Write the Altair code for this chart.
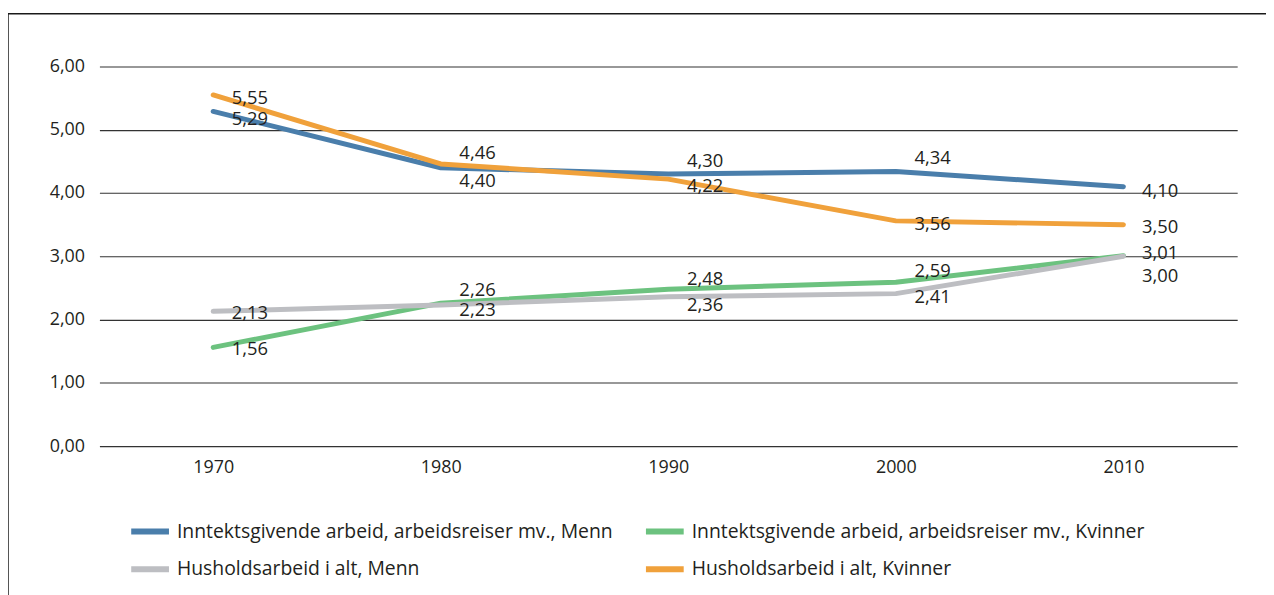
import altair as alt
import pandas as pd

years = ["1970", "1980", "1990", "2000", "2010"]
series_names = [
    "Inntektsgivende arbeid, arbeidsreiser mv., Menn",
    "Inntektsgivende arbeid, arbeidsreiser mv., Kvinner",
    "Husholdsarbeid i alt, Menn",
    "Husholdsarbeid i alt, Kvinner",
]
menn_arbeid = [5.29, 4.40, 4.30, 4.34, 4.10]
kvinner_arbeid = [1.56, 2.26, 2.48, 2.59, 3.01]
menn_hus = [2.13, 2.23, 2.36, 2.41, 3.00]
kvinner_hus = [5.55, 4.46, 4.22, 3.56, 3.50]
y_ticks = [0, 1, 2, 3, 4, 5, 6]

colors = ["#4a7eab", "#6cc27f", "#bdbec2", "#f0a13b"]

# label vertical offsets in pixels (layout only)
label_dy = [
    [8, 13, -13, -14, 4],
    [2, -13, -10, -11, -3],
    [2, 5, 8, 3, 20],
    [3, -11, 7, 3, 2],
]

PX_PER_UNIT = 382 / 6.0

rows = []
for si, (s, vals) in enumerate(zip(series_names, [menn_arbeid, kvinner_arbeid, menn_hus, kvinner_hus])):
    for j, (yr, v) in enumerate(zip(years, vals)):
        rows.append({
            "year": yr,
            "serie": s,
            "value": v,
            "label": f"{v:.2f}".replace(".", ","),
            "label_y": v - label_dy[si][j] / PX_PER_UNIT,
        })
df = pd.DataFrame(rows)

FONT = "Open Sans"
TXT = "#231f20"

x_enc = alt.X("year:N", sort=years,
              scale=alt.Scale(type="point", padding=0.5),
              axis=alt.Axis(title=None, labelAngle=0, ticks=False, domain=False,
                            labelPadding=13, labelFontSize=18, labelColor=TXT,
                            labelFont=FONT, grid=False))

lines = alt.Chart(df).mark_line(strokeWidth=5, strokeCap="round", strokeJoin="round").encode(
    x=x_enc,
    y=alt.Y("value:Q", scale=alt.Scale(domain=[0, 6], nice=False, zero=True),
            axis=alt.Axis(title=None, values=y_ticks, ticks=False, domain=False,
                          labelExpr="replace(format(datum.value, '.2f'), '.', ',')",
                          labelPadding=15, labelFontSize=18, labelColor=TXT,
                          labelFont=FONT, grid=True, gridColor="#333333",
                          gridWidth=1.1)),
    color=alt.Color("serie:N", sort=series_names,
                    scale=alt.Scale(domain=series_names, range=colors),
                    legend=alt.Legend(title=None, orient="none", legendX=29, legendY=446,
                                      direction="horizontal",
                                      columns=2, columnPadding=21, rowPadding=4,
                                      symbolType="stroke", symbolSize=1444,
                                      symbolStrokeWidth=6, labelOffset=5,
                                      labelFontSize=19.5, labelFont=FONT,
                                      labelColor=TXT, labelLimit=0)),
    order=alt.Order("year:N"),
)

labels = alt.Chart(df).mark_text(align="center", baseline="middle", dx=37,
                                 fontSize=18.5, font=FONT, color=TXT).encode(
    x=alt.X("year:N", sort=years, scale=alt.Scale(type="point", padding=0.5)),
    y=alt.Y("label_y:Q"),
    text="label:N",
)

frame_df = pd.DataFrame({"k": [0]})
frame_left = alt.Chart(frame_df).mark_rule(color="#1a1a1a", strokeWidth=1.5).encode(
    x=alt.value(-92), y=alt.value(-53), y2=alt.value(560))
frame_top = alt.Chart(frame_df).mark_rule(color="#1a1a1a", strokeWidth=1.5).encode(
    x=alt.value(-92), x2=alt.value(1174), y=alt.value(-53))

chart = alt.layer(lines, labels, frame_left, frame_top).properties(
    width=1145, height=382,
    padding={"left": 92, "top": 57, "right": 29, "bottom": 150},
    autosize=alt.AutoSizeParams(type="none"),
    background="white",
).configure_view(stroke=None)

chart.save("out.html", embed_options={"renderer": "svg", "actions": False})
